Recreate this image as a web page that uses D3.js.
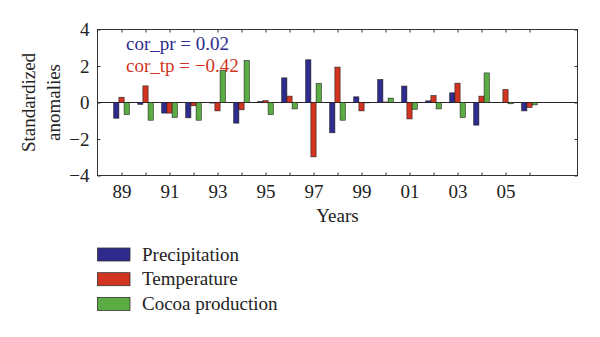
<!DOCTYPE html>
<html>
<head>
<meta charset="utf-8">
<script src="https://cdnjs.cloudflare.com/ajax/libs/d3/7.8.5/d3.min.js"></script>
<style>
  body { margin: 0; background: #fff; }
  text { font-family: "Liberation Serif", "Times New Roman", serif; fill: #222; }
</style>
</head>
<body>
<div id="chart"></div>
<script>
// yearly standardized anomalies, 1989-2006
const years = d3.range(1989, 2007);
const precipitation = [-0.86, -0.1, -0.58, -0.84, -0.03, -1.13, 0.05, 1.35, 2.34, -1.66, 0.31, 1.26, 0.9, 0.09, 0.53, -1.24, 0.0, -0.46];
const temperature   = [0.29, 0.91, -0.58, -0.18, -0.46, -0.4, 0.1, 0.35, -2.98, 1.94, -0.46, 0.03, -0.9, 0.38, 1.06, 0.35, 0.71, -0.27];
const cocoa         = [-0.66, -0.97, -0.82, -0.97, 1.75, 2.3, -0.66, -0.35, 1.04, -0.97, -0.02, 0.24, -0.37, -0.35, -0.82, 1.62, -0.07, -0.13];
const seriesNames = ["Precipitation", "Temperature", "Cocoa production"];
const seriesColors = ["#2e2b8c", "#d2341f", "#5cac44"];
const xTickLabels = ["89", "91", "93", "95", "97", "99", "01", "03", "05"];
const yTicks = [-4, -2, 0, 2, 4];
const notes = [
  { text: "cor_pr = 0.02", color: "#2e2b8c" },
  { text: "cor_tp = \u22120.42", color: "#d2341f" }
];

const width = 600, height = 337;
const plotL = 97.5, plotR = 577.5, plotT = 29.5, plotB = 175.5;
const fontSize = "19px";

const svg = d3.select("#chart").append("svg")
  .attr("width", width)
  .attr("height", height);

const x = d3.scaleLinear().domain([1988, 2008]).range([plotL, plotR]);
const y = d3.scaleLinear().domain([-4, 4]).range([plotB, plotT]);

const barW = 5.2;
const offsets = [-1.5 * barW, -0.5 * barW, 0.5 * barW];
const series = [precipitation, temperature, cocoa];

// zero line
svg.append("line")
  .attr("x1", plotL).attr("x2", plotR)
  .attr("y1", y(0)).attr("y2", y(0))
  .attr("stroke", "#222").attr("stroke-width", 1);

series.forEach((vals, s) => {
  svg.append("g").selectAll("rect")
    .data(vals)
    .join("rect")
    .attr("x", (d, i) => x(years[i]) + offsets[s])
    .attr("y", d => y(Math.max(d, 0)))
    .attr("width", barW)
    .attr("height", d => Math.abs(y(d) - y(0)))
    .attr("fill", seriesColors[s])
    .attr("stroke", "#222")
    .attr("stroke-width", 0.6);
});

const fmtYear = d => {
  const lab = String(d).slice(2);
  return xTickLabels.includes(lab) && d % 2 === 1 ? lab : "";
};

// axes with inward ticks
svg.append("g")
  .attr("transform", `translate(0,${plotB})`)
  .call(d3.axisBottom(x).tickValues(years).tickSizeInner(-3).tickSizeOuter(0)
    .tickPadding(9).tickFormat(fmtYear));
svg.append("g")
  .attr("transform", `translate(0,${plotT})`)
  .call(d3.axisTop(x).tickValues(years).tickSizeInner(-3).tickSizeOuter(0).tickFormat(""));
svg.append("g")
  .attr("transform", `translate(${plotL},0)`)
  .call(d3.axisLeft(y).tickValues(yTicks).tickSizeInner(-3).tickSizeOuter(0)
    .tickPadding(8).tickFormat(d => d < 0 ? "\u2212" + Math.abs(d) : d));
svg.append("g")
  .attr("transform", `translate(${plotR},0)`)
  .call(d3.axisRight(y).tickValues(yTicks).tickSizeInner(-3).tickSizeOuter(0).tickFormat(""));

svg.selectAll(".domain").remove();
svg.selectAll(".tick line").attr("stroke", "#333");
svg.selectAll(".tick text")
  .style("font-family", "'Liberation Serif', serif")
  .style("font-size", fontSize)
  .attr("fill", "#222");

// frame
svg.append("rect")
  .attr("x", plotL).attr("y", plotT)
  .attr("width", plotR - plotL).attr("height", plotB - plotT)
  .attr("fill", "none").attr("stroke", "#333").attr("stroke-width", 1);

// axis titles
svg.append("text")
  .attr("x", (plotL + plotR) / 2).attr("y", 222)
  .attr("text-anchor", "middle")
  .style("font-size", fontSize)
  .text("Years");

const yTitle = svg.append("text")
  .attr("transform", `translate(0,${y(0)}) rotate(-90)`)
  .attr("text-anchor", "middle")
  .style("font-size", fontSize);
yTitle.append("tspan").attr("x", 0).attr("y", 35).text("Standardized");
yTitle.append("tspan").attr("x", 0).attr("y", 60).text("anomalies");

// correlation notes
svg.selectAll(".note")
  .data(notes)
  .join("text")
  .attr("class", "note")
  .attr("x", 126)
  .attr("y", (d, i) => 50 + i * 22)
  .style("font-size", fontSize)
  .style("fill", d => d.color)
  .text(d => d.text);

// legend
const legend = svg.append("g");
seriesNames.forEach((name, i) => {
  const ly = 248 + i * 24.7;
  legend.append("rect")
    .attr("x", 97.5).attr("y", ly)
    .attr("width", 32.5).attr("height", 13)
    .attr("fill", seriesColors[i])
    .attr("stroke", "#333").attr("stroke-width", 0.8);
  legend.append("text")
    .attr("x", 142).attr("y", ly + 12.5)
    .style("font-size", fontSize)
    .text(name);
});
</script>
</body>
</html>
